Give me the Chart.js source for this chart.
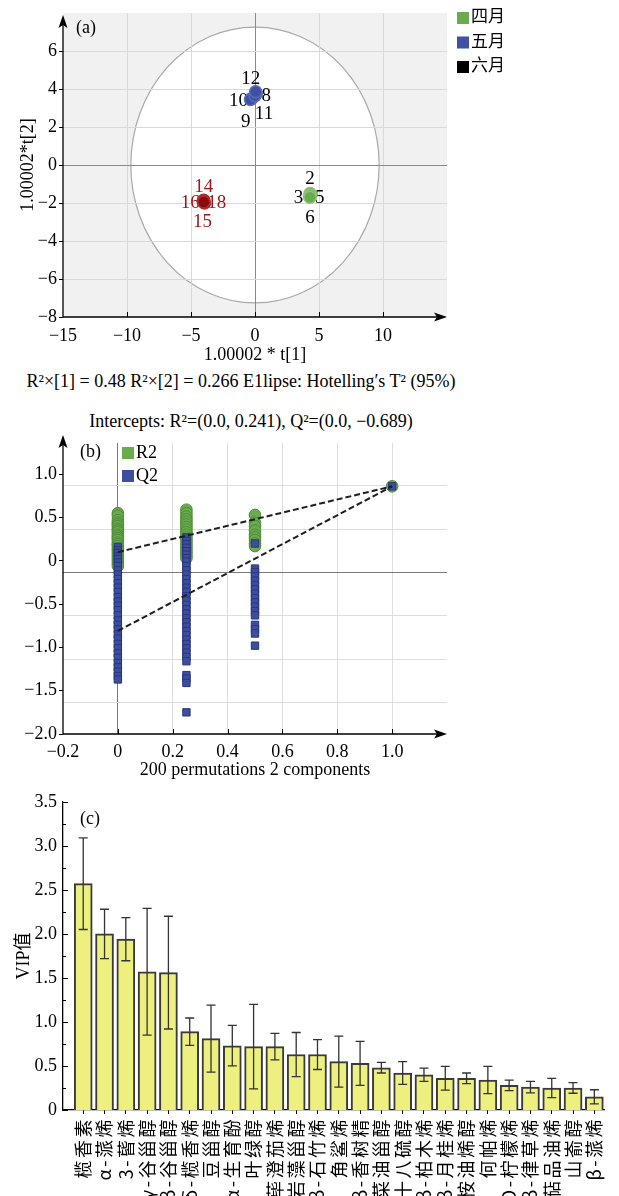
<!DOCTYPE html>
<html>
<head>
<meta charset="utf-8">
<script src="https://cdn.jsdelivr.net/npm/chart.js@4.4.1/dist/chart.umd.min.js"></script>
<style>
  html, body { margin: 0; padding: 0; background: #fff; }
  #page { position: relative; width: 619px; height: 1196px; overflow: hidden;
          font-family: 'Liberation Serif', 'Noto Sans CJK SC', serif; color: #000; }
  .panel { position: absolute; left: 0; width: 619px; }
  .note { position: absolute; white-space: nowrap; font-size: 18px; line-height: 20px;
          transform: translateX(-50%); }
</style>
</head>
<body>
<div id="page">
  <div class="panel" style="top:0;height:368px"><canvas id="score"></canvas></div>
  <div class="note" style="left:241px;top:371px">R²×[1] = 0.48 R²×[2] = 0.266 E1lipse: Hotelling′s T² (95%)</div>
  <div class="note" style="left:251px;top:411px">Intercepts: R²=(0.0, 0.241), Q²=(0.0, −0.689)</div>
  <div class="panel" style="top:430px;height:355px"><canvas id="perm"></canvas></div>
  <div class="panel" style="top:785px;height:411px"><canvas id="vip"></canvas></div>
</div>
<script>
// (a) score plot, one point per sample
const aprilX = [4.30, 4.25, 4.35, 4.30];
const aprilY = [-1.50, -1.65, -1.60, -1.70];
const aprilIds = ['2', '3', '5', '6'];
const mayX = [0.10, -0.25, -0.35, 0.00, 0.05];
const mayY = [3.75, 3.50, 3.45, 3.65, 3.85];
const mayIds = ['8', '9', '10', '11', '12'];
const juneX = [-4.00, -3.95, -4.05, -4.00];
const juneY = [-1.85, -2.00, -1.90, -1.95];
const juneIds = ['14', '15', '16', '18'];
const monthNames = ['四月', '五月', '六月'];
const ellipseRadii = [9.7, 7.26]; // Hotelling T2 (95%) on t[1], t[2]

// (b) permutation test, values per column
const r2At0 = [0.55, 0.52, 0.47, 0.44, 0.42, 0.40, 0.37, 0.35, 0.33, 0.30, 0.28, 0.26, 0.24, 0.21, 0.19, 0.17, 0.14, 0.12, 0.09, 0.06, 0.03, 0.00, -0.03, -0.06];
const q2At0 = [0.16, 0.12, 0.09, 0.05, 0.02, -0.02, -0.06, -0.11, -0.16, -0.21, -0.26, -0.31, -0.36, -0.42, -0.47, -0.52, -0.57, -0.63, -0.69, -0.74, -0.79, -0.85, -0.90, -0.96, -1.01, -1.07, -1.12, -1.18, -1.23, -1.28, -1.33, -1.37];
const r2At25 = [0.59, 0.55, 0.51, 0.48, 0.45, 0.42, 0.39, 0.36, 0.33, 0.30, 0.27, 0.24, 0.21, 0.18, 0.15, 0.12, 0.09, 0.06, 0.03];
const q2At25 = [0.27, 0.23, 0.19, 0.15, 0.11, 0.07, 0.03, -0.01, -0.06, -0.11, -0.16, -0.21, -0.26, -0.31, -0.36, -0.41, -0.46, -0.51, -0.56, -0.61, -0.66, -0.71, -0.76, -0.81, -0.86, -0.91, -0.96, -1.01, -1.06, -1.11, -1.16, -1.32, -1.36, -1.41, -1.75];
const r2At50 = [0.53, 0.44, 0.40, 0.35, 0.30, 0.27, 0.24, 0.20, 0.17];
const q2At50 = [0.20, -0.09, -0.13, -0.18, -0.23, -0.28, -0.33, -0.38, -0.43, -0.48, -0.53, -0.58, -0.63, -0.74, -0.79, -0.84, -0.98];
const r2Model = [0.86];
const q2Model = [0.86];
const fitX = [0, 1];
const r2Fit = [0.10, 0.86];
const q2Fit = [-0.81, 0.86];

// (c) VIP values with error bars
const vipLabels = ['榄香素', 'α-蒎烯', '3-蒈烯', 'γ-谷甾醇', 'β-谷甾醇', 'δ-榄香烯', '豆甾醇', 'α-生育酚', '叶绿醇', '荜澄茄烯', '岩藻甾醇', 'β-石竹烯', '角鲨烯', 'β-香树精', '菜油甾醇', '十八硫醇', 'β-柏木烯', 'β-月桂烯', '桉油烯醇', '何帕烯', 'D-柠檬烯', 'β-律草烯', '萜品油烯', '山嵛醇', 'β-蒎烯'];
const vipValues = [2.57, 2.00, 1.94, 1.57, 1.56, 0.89, 0.81, 0.73, 0.72, 0.72, 0.63, 0.63, 0.55, 0.53, 0.48, 0.42, 0.40, 0.36, 0.36, 0.34, 0.28, 0.26, 0.25, 0.25, 0.15];
const vipErrors = [0.52, 0.28, 0.245, 0.72, 0.64, 0.155, 0.38, 0.23, 0.48, 0.15, 0.25, 0.17, 0.29, 0.25, 0.06, 0.13, 0.075, 0.135, 0.06, 0.155, 0.06, 0.065, 0.11, 0.06, 0.08];

// label placement around each point (pixels)
const aprilOffsets = [[0, -14], [-11, 2], [9, 3], [0, 21]];
const mayOffsets = [[10, 2], [-6, 24], [-12, 2], [9, 18], [-5, -13]];
const juneOffsets = [[0, -13], [-2, 19], [-13, 2], [13, 1]];

const SERIF = "'Liberation Serif', 'Noto Sans CJK SC', serif";
Chart.defaults.font.family = SERIF;
Chart.defaults.font.size = 18;
Chart.defaults.color = '#000';

function pts(xs, ys) { return xs.map((x, i) => ({ x: x, y: ys[i] })); }
function column(x, ys) { return ys.map(y => ({ x: x, y: y })); }
function near(a, b) { return Math.abs(a - b) < 1e-6; }
function fmt(v, d) {
  if (near(v, 0)) return '0';
  return (d == null ? String(v) : v.toFixed(d)).replace('-', '\u2212');
}

function drawAxes(ctx, a, tipTop, tipRight) {
  ctx.save();
  ctx.strokeStyle = '#000';
  ctx.fillStyle = '#000';
  ctx.lineWidth = 1.3;
  ctx.beginPath();
  ctx.moveTo(a.left, a.bottom); ctx.lineTo(a.left, tipTop + 8);
  ctx.moveTo(a.left, a.bottom); ctx.lineTo(tipRight - 8, a.bottom);
  ctx.stroke();
  ctx.beginPath();
  ctx.moveTo(a.left, tipTop); ctx.lineTo(a.left - 4.5, tipTop + 13);
  ctx.lineTo(a.left, tipTop + 10); ctx.lineTo(a.left + 4.5, tipTop + 13);
  ctx.closePath(); ctx.fill();
  ctx.beginPath();
  ctx.moveTo(tipRight, a.bottom); ctx.lineTo(tipRight - 13, a.bottom - 4.5);
  ctx.lineTo(tipRight - 10, a.bottom); ctx.lineTo(tipRight - 13, a.bottom + 4.5);
  ctx.closePath(); ctx.fill();
  ctx.restore();
}

function inwardXTicks(chart, keep) {
  const ctx = chart.ctx, x = chart.scales.x, b = chart.chartArea.bottom;
  ctx.save();
  ctx.strokeStyle = '#000';
  ctx.lineWidth = 1;
  ctx.beginPath();
  x.ticks.forEach(t => {
    if (!keep(t.value)) return;
    const px = Math.round(x.getPixelForValue(t.value)) + 0.5;
    ctx.moveTo(px, b); ctx.lineTo(px, b - 5);
  });
  ctx.stroke();
  ctx.restore();
}

function drawLegend(ctx, x, y, gap, names, colors, font) {
  ctx.save();
  ctx.font = font;
  ctx.textBaseline = 'middle';
  names.forEach((n, i) => {
    ctx.fillStyle = colors[i];
    ctx.fillRect(x, y + i * gap, 12, 12);
    ctx.fillStyle = '#000';
    ctx.fillText(n, x + 14, y + i * gap + 6);
  });
  ctx.restore();
}

function panelTag(ctx, text, x, y) {
  ctx.save();
  ctx.font = '18px ' + SERIF;
  ctx.fillStyle = '#000';
  ctx.textBaseline = 'middle';
  ctx.fillText(text, x, y);
  ctx.restore();
}

// ---------- (a) ----------
function group(xs, ys, ids, offs, fill, edge, textColor, name) {
  return {
    label: name, data: pts(xs, ys), ids: ids, offsets: offs, textColor: textColor,
    backgroundColor: fill, borderColor: edge, borderWidth: 1.5, pointRadius: 6
  };
}

const scoreDeco = {
  id: 'scoreDeco',
  beforeDraw(chart) {
    const { ctx, chartArea: a, scales: { x, y } } = chart;
    ctx.save();
    ctx.fillStyle = '#f1f1f1';
    ctx.fillRect(a.left, a.top, a.right - a.left, a.bottom - a.top);
    const cx = x.getPixelForValue(0), cy = y.getPixelForValue(0);
    const rx = x.getPixelForValue(ellipseRadii[0]) - cx;
    const ry = cy - y.getPixelForValue(ellipseRadii[1]);
    ctx.beginPath();
    ctx.ellipse(cx, cy, rx, ry, 0, 0, Math.PI * 2);
    ctx.fillStyle = '#fff';
    ctx.fill();
    ctx.strokeStyle = '#a9a9a9';
    ctx.lineWidth = 1.2;
    ctx.stroke();
    ctx.restore();
  },
  beforeDatasetsDraw(chart) {
    const ctx = chart.ctx;
    ctx.save();
    ctx.font = '19px ' + SERIF;
    ctx.textAlign = 'center';
    ctx.textBaseline = 'middle';
    chart.data.datasets.forEach((ds, di) => {
      chart.getDatasetMeta(di).data.forEach((p, i) => {
        ctx.fillStyle = ds.textColor;
        ctx.fillText(ds.ids[i], p.x + ds.offsets[i][0], p.y + ds.offsets[i][1]);
      });
    });
    ctx.restore();
  },
  afterDraw(chart) {
    const { ctx, chartArea: a } = chart;
    drawAxes(ctx, a, a.top + 2, a.right);
    inwardXTicks(chart, v => v > -15 && v < 15);
    panelTag(ctx, '(a)', a.left + 13, a.top + 15);
    drawLegend(ctx, 457, 12, 24.5, monthNames, ['#6aab4e', '#3f51a0', '#000'], '17px ' + SERIF);
  }
};

new Chart(document.getElementById('score'), {
  type: 'scatter',
  data: {
    datasets: [
      group(aprilX, aprilY, aprilIds, aprilOffsets, '#6aab4e', '#8cc276', '#000', monthNames[0]),
      group(mayX, mayY, mayIds, mayOffsets, '#3f51a0', '#5a6cb8', '#000', monthNames[1]),
      group(juneX, juneY, juneIds, juneOffsets, '#8b0a0a', '#a83030', '#a0161a', monthNames[2])
    ]
  },
  options: {
    responsive: true, maintainAspectRatio: false, animation: false,
    layout: { padding: { left: 0, top: 13, right: 172, bottom: 0 } },
    plugins: { legend: { display: false }, tooltip: { enabled: false } },
    scales: {
      x: {
        type: 'linear', min: -15, max: 15,
        afterFit: s => { s.height = 51; },
        ticks: { stepSize: 5, padding: 8, autoSkip: false, maxRotation: 0,
                 callback: v => near(v, 15) ? '' : fmt(v) },
        grid: { drawTicks: false,
                color: c => near(c.tick.value, 0) ? '#8a8a8a' : (Math.abs(c.tick.value) > 14 ? 'rgba(0,0,0,0)' : '#d9d9d9') },
        border: { display: false },
        title: { display: true, text: '1.00002 * t[1]', font: { size: 18 }, padding: { top: 0, bottom: 2 } }
      },
      y: {
        type: 'linear', min: -8, max: 8,
        afterFit: s => { s.width = 63; },
        ticks: { stepSize: 2, padding: 2, autoSkip: false,
                 callback: v => near(v, 8) ? '' : fmt(v) },
        grid: { tickLength: 4,
                tickColor: c => near(c.tick.value, 8) ? 'rgba(0,0,0,0)' : '#000',
                color: c => near(c.tick.value, 0) ? '#8a8a8a' : (Math.abs(c.tick.value) > 7 ? 'rgba(0,0,0,0)' : '#d9d9d9') },
        border: { display: false },
        title: { display: true, text: '1.00002*t[2]', font: { size: 18 }, padding: { top: 17, bottom: 0 } }
      }
    }
  },
  plugins: [scoreDeco]
});

// ---------- (b) ----------
const gridShift = -0.13;
const permDeco = {
  id: 'permDeco',
  beforeDatasetsDraw(chart) {
    const { ctx, chartArea: a, scales: { y } } = chart;
    ctx.save();
    ctx.lineWidth = 1;
    y.ticks.forEach(t => {
      const v = t.value + gridShift;
      if (v <= y.min || Math.abs(t.value * 2 - Math.round(t.value * 2)) > 1e-6) return;
      const py = Math.round(y.getPixelForValue(v)) + 0.5;
      ctx.strokeStyle = near(t.value, 0) ? '#7a7a7a' : '#dedede';
      ctx.beginPath();
      ctx.moveTo(a.left, py); ctx.lineTo(a.right, py);
      ctx.stroke();
    });
    ctx.restore();
  },
  afterDraw(chart) {
    const { ctx, chartArea: a } = chart;
    drawAxes(ctx, a, a.top - 8, a.right);
    inwardXTicks(chart, v => v > -0.19 && v < 1.19);
    panelTag(ctx, '(b)', a.left + 17, a.top + 9);
    drawLegend(ctx, 122, 17, 23, ['R2', 'Q2'], ['#6aab4e', '#3d4f9c'], '18px ' + SERIF);
  }
};

new Chart(document.getElementById('perm'), {
  type: 'scatter',
  data: {
    datasets: [
      { label: 'R2 fit', data: pts(fitX, r2Fit), showLine: true, pointRadius: 0, borderColor: '#1e1e1e', borderWidth: 2, borderDash: [6, 3], order: 0 },
      { label: 'Q2 fit', data: pts(fitX, q2Fit), showLine: true, pointRadius: 0, borderColor: '#1e1e1e', borderWidth: 2, borderDash: [6, 3], order: 0 },
      { label: 'Q2', data: column(0, q2At0).concat(column(0.25, q2At25), column(0.5, q2At50), column(1, q2Model)),
        pointStyle: 'rect', pointRadius: 5.2, backgroundColor: '#3d4f9c', borderColor: '#27367c', borderWidth: 1, order: 1 },
      { label: 'R2', data: column(0, r2At0).concat(column(0.25, r2At25), column(0.5, r2At50), column(1, r2Model)),
        pointRadius: 5.8, backgroundColor: '#6aab4e', borderColor: '#4e8c38', borderWidth: 1, order: 2 }
    ]
  },
  options: {
    responsive: true, maintainAspectRatio: false, animation: false,
    layout: { padding: { left: 0, top: 13, right: 172, bottom: 0 } },
    plugins: { legend: { display: false }, tooltip: { enabled: false } },
    scales: {
      x: {
        type: 'linear', min: -0.2, max: 1.2,
        afterFit: s => { s.height = 51; },
        ticks: { stepSize: 0.2, padding: 7, autoSkip: false, maxRotation: 0,
                 callback: v => near(v, 1.2) ? '' : fmt(v, 1) },
        grid: { drawTicks: false,
                color: c => near(c.tick.value, 0) ? '#7a7a7a' : ((near(c.tick.value, -0.2) || near(c.tick.value, 1.2)) ? 'rgba(0,0,0,0)' : '#dedede') },
        border: { display: false },
        title: { display: true, text: '200 permutations 2 components', font: { size: 18 }, padding: { top: 0, bottom: 4 } }
      },
      y: {
        type: 'linear', min: -2, max: 1.36,
        afterFit: s => { s.width = 63; },
        ticks: { stepSize: 0.5, padding: 2, autoSkip: false,
                 callback: v => v > 1.05 ? '' : fmt(v, 1) },
        grid: { drawOnChartArea: false, tickLength: 4,
                tickColor: c => c.tick.value > 1.05 ? 'rgba(0,0,0,0)' : '#000' },
        border: { display: false }
      }
    }
  },
  plugins: [permDeco]
});

// ---------- (c) ----------
const vipDeco = {
  id: 'vipDeco',
  afterDatasetsDraw(chart) {
    const { ctx, scales: { y } } = chart;
    ctx.save();
    ctx.strokeStyle = '#333';
    ctx.lineWidth = 1.3;
    chart.getDatasetMeta(0).data.forEach((bar, i) => {
      const top = y.getPixelForValue(vipValues[i] + vipErrors[i]);
      const bot = y.getPixelForValue(vipValues[i] - vipErrors[i]);
      ctx.beginPath();
      ctx.moveTo(bar.x, top); ctx.lineTo(bar.x, bot);
      ctx.moveTo(bar.x - 4.5, top); ctx.lineTo(bar.x + 4.5, top);
      ctx.moveTo(bar.x - 4.5, bot); ctx.lineTo(bar.x + 4.5, bot);
      ctx.stroke();
    });
    ctx.restore();
  },
  afterDraw(chart) {
    const { ctx, chartArea: a, scales: { y } } = chart;
    ctx.save();
    ctx.strokeStyle = '#000';
    ctx.lineWidth = 1;
    ctx.beginPath();
    for (let v = 0; v <= 3.5001; v += 0.25) {
      const py = Math.round(y.getPixelForValue(v)) + 0.5;
      const len = near(v * 2, Math.round(v * 2)) ? 5 : 3;
      ctx.moveTo(a.left, py); ctx.lineTo(a.left + len, py);
    }
    ctx.stroke();
    ctx.restore();
    panelTag(ctx, '(c)', a.left + 17, a.top + 17);
  }
};

new Chart(document.getElementById('vip'), {
  type: 'bar',
  data: {
    datasets: [{
      label: 'VIP', data: pts(vipLabels.map((_, i) => i), vipValues),
      backgroundColor: '#edf07f', borderColor: '#3a3a3a', borderWidth: 2, barThickness: 18
    }]
  },
  options: {
    responsive: true, maintainAspectRatio: false, animation: false,
    layout: { padding: { left: 0, top: 14, right: 3, bottom: 0 } },
    plugins: { legend: { display: false }, tooltip: { enabled: false } },
    scales: {
      x: {
        type: 'linear', min: -0.95, max: 24.5, offset: false,
        afterBuildTicks: s => { s.ticks = vipLabels.map((_, i) => ({ value: i })); },
        afterFit: s => {
          s.height = 86;
          if (!s._spaced) {
            const orig = s.drawLabels;
            s.drawLabels = function (area) {
              const c = this.ctx;
              c.save();
              c.letterSpacing = '2.5px';
              orig.call(this, area);
              c.restore();
            };
            s._spaced = true;
          }
        },
        ticks: { autoSkip: false, maxRotation: 90, minRotation: 90, padding: 3,
                 font: { size: 18, family: "'Noto Sans CJK SC', 'Liberation Serif', sans-serif" },
                 callback: v => vipLabels[v] },
        grid: { offset: false, drawOnChartArea: false, tickLength: 4, tickColor: '#000' },
        border: { color: '#000', width: 1.3 }
      },
      y: {
        type: 'linear', min: 0, max: 3.5,
        afterFit: s => { s.width = 63; },
        ticks: { stepSize: 0.5, padding: 6, autoSkip: false, callback: v => fmt(v, 1) },
        grid: { display: false, drawTicks: false },
        border: { color: '#000', width: 1.3 },
        title: { display: true, text: 'VIP值', font: { size: 18 }, padding: { top: 13, bottom: 0 } }
      }
    }
  },
  plugins: [vipDeco]
});
</script>
</body>
</html>
